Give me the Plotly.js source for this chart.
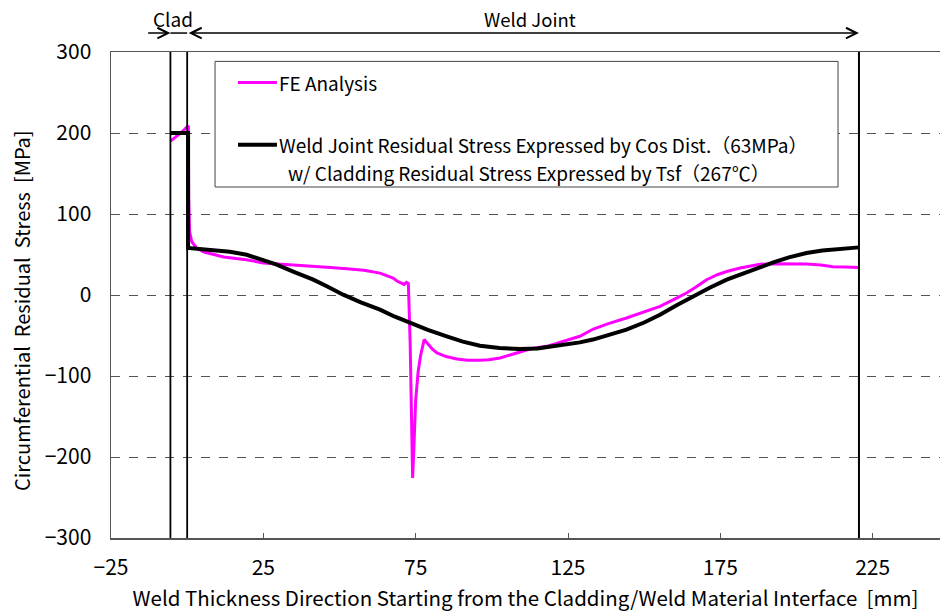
<!DOCTYPE html>
<html>
<head>
<meta charset="utf-8">
<script src="https://cdn.plot.ly/plotly-3.0.1.min.js"></script>
<style>
  html, body { margin: 0; padding: 0; background: #fff; }
  #chart { width: 940px; height: 612px; }
</style>
</head>
<body>
<div id="chart"></div>
<script>
// Through-thickness position [mm] and circumferential residual stress [MPa]
const feX = [-5.5, -4, -2.5, -1, 0, 0.4, 0.5, 0.8, 1.5, 3.1, 5.5, 8.6, 12, 16, 19.5, 25, 30.5, 36, 41.4, 47, 52.4, 58, 63.3, 65.5, 67.6, 69, 70.4, 71.2, 72, 72.6, 73.2, 73.7, 74.0, 74.4, 75.0, 75.8, 76.6, 77.8, 79, 80.5, 82, 85, 88.5, 92, 96.1, 99, 102.7, 106, 109.2, 113, 118, 121, 124.6, 128.9, 133.3, 138.5, 144.2, 150, 155.2, 160, 163.9, 167, 170.5, 174, 177.1, 181.5, 188, 192.4, 197, 203.3, 208, 212, 216, 220.5];
const feY = [190, 194, 199, 204, 208, 209, 120, 78, 66, 58, 53, 49.7, 47, 45, 43.6, 39.5, 38.3, 36.5, 35.3, 34, 32.5, 30.5, 27, 24, 21, 17, 14.8, 13, 15.6, 14, -60, -180, -226, -190, -130, -95, -75, -55, -60, -67, -71.6, -76, -79, -80.5, -80.7, -80, -77.8, -74, -69.6, -66, -63.4, -60, -55, -51, -42, -35, -28.4, -21, -14, -5, 2.5, 10, 18.9, 25, 29, 33.3, 38, 38.6, 38.5, 38.2, 37, 35, 34.5, 34];

const cosX = [-5.5, 0.3, 0.3, 8.6, 14, 19.5, 24.5, 29.4, 35, 41.4, 46, 51.2, 57, 63.3, 68, 73.1, 79, 85.2, 90.5, 96.1, 102.5, 109.2, 115, 120, 124.5, 128.9, 133.2, 138.5, 144.2, 150, 155.2, 160.5, 166.1, 171.5, 177.1, 181.5, 188, 192.4, 197.5, 203.3, 208.5, 214.3, 220.5];
const cosY = [200, 200, 58, 56, 53.5, 49.7, 44, 37.4, 28.5, 18.9, 10.5, 0.4, -9, -18, -26.5, -34.6, -43, -51, -57.5, -62.6, -65.5, -66.7, -66, -63.4, -61, -58.5, -55, -49, -42.8, -34, -24.3, -13, -1.7, 9, 18.9, 25, 35.3, 40.3, 46.5, 51.8, 55, 57.2, 58.8];

// Region boundaries [mm]
const cladStart = -5.5;
const weldStart = 0;
const weldEnd = 220.5;
const cladArrowFrom = -13.3;

const seriesNames = [
  'FE Analysis',
  'Weld Joint Residual Stress Expressed by Cos Dist.（63MPa）',
  'w/ Cladding Residual Stress Expressed by Tsf（267℃）'
];

const FONT = '"Noto Sans CJK JP", "Noto Sans", sans-serif';

const traces = [
  { x: feX, y: feY, type: 'scatter', mode: 'lines', name: seriesNames[0],
    line: { color: '#ff00ff', width: 3 }, showlegend: false },
  { x: cosX, y: cosY, type: 'scatter', mode: 'lines', name: seriesNames[1],
    line: { color: '#000000', width: 4 }, showlegend: false }
];

// Legend box geometry (paper units)
const lgX0 = 0.1255, lgX1 = 0.877, lgY0 = 0.7222, lgY1 = 0.9807;
const sampleX0 = 0.1532, sampleX1 = 0.2002;
const row1 = 0.9375, row2 = 0.8093, row3 = 0.7518;

const shapes = [
  // clad / weld boundaries
  { type: 'line', xref: 'x', yref: 'paper', x0: cladStart, x1: cladStart, y0: 0, y1: 1, line: { color: '#000', width: 1.8 } },
  { type: 'line', xref: 'x', yref: 'paper', x0: weldStart, x1: weldStart, y0: 0, y1: 1, line: { color: '#000', width: 1.8 } },
  { type: 'line', xref: 'x', yref: 'paper', x0: weldEnd, x1: weldEnd, y0: 0, y1: 1, line: { color: '#000', width: 2 } },
  // span line across the clad above the plot
  { type: 'line', xref: 'x', yref: 'paper', x0: cladStart, x1: weldStart, y0: 1.039, y1: 1.039, line: { color: '#000', width: 1.5 } },
  // legend frame and samples
  { type: 'rect', xref: 'paper', yref: 'paper', x0: lgX0, x1: lgX1, y0: lgY0, y1: lgY1,
    line: { color: '#444', width: 1 }, fillcolor: '#ffffff', layer: 'above' },
  { type: 'line', xref: 'paper', yref: 'paper', x0: sampleX0, x1: sampleX1, y0: row1, y1: row1,
    line: { color: '#ff00ff', width: 3 }, layer: 'above' },
  { type: 'line', xref: 'paper', yref: 'paper', x0: sampleX0, x1: sampleX1, y0: row2, y1: row2,
    line: { color: '#000', width: 4 }, layer: 'above' }
];

const annotations = [
  { xref: 'x', yref: 'paper', x: cladStart, y: 1.039, axref: 'x', ayref: 'paper', ax: cladArrowFrom, ay: 1.039,
    text: '', showarrow: true, arrowhead: 5, arrowsize: 1.4, arrowwidth: 1.5, arrowcolor: '#000' },
  { xref: 'x', yref: 'paper', x: weldEnd, y: 1.039, axref: 'x', ayref: 'paper', ax: weldStart, ay: 1.039,
    text: '', showarrow: true, arrowhead: 5, startarrowhead: 5, arrowside: 'end+start',
    arrowsize: 1.4, startarrowsize: 1.4, arrowwidth: 1.5, arrowcolor: '#000' },
  { xref: 'x', yref: 'paper', x: -4.6, y: 1.068, text: 'Clad', showarrow: false,
    xanchor: 'center', yanchor: 'middle', font: { family: FONT, size: 19, color: '#000' } },
  { xref: 'x', yref: 'paper', x: 112.5, y: 1.068, text: 'Weld Joint', showarrow: false,
    xanchor: 'center', yanchor: 'middle', font: { family: FONT, size: 18.5, color: '#000' } },
  { xref: 'paper', yref: 'paper', x: sampleX1, y: row1, text: seriesNames[0], showarrow: false,
    xanchor: 'left', yanchor: 'middle', font: { family: FONT, size: 19, color: '#000' } },
  { xref: 'paper', yref: 'paper', x: sampleX1, y: row2, text: seriesNames[1], showarrow: false,
    xanchor: 'left', yanchor: 'middle', font: { family: FONT, size: 19, color: '#000' } },
  { xref: 'paper', yref: 'paper', x: 0.2117, y: row3, text: seriesNames[2], showarrow: false,
    xanchor: 'left', yanchor: 'middle', font: { family: FONT, size: 19, color: '#000' } }
];

const layout = {
  width: 940, height: 612,
  margin: { l: 111, r: 0, t: 52, b: 74 },
  paper_bgcolor: '#fff', plot_bgcolor: '#fff',
  font: { family: FONT, color: '#000' },
  xaxis: {
    range: [-25, 247.1], tick0: -25, dtick: 50,
    ticks: 'inside', ticklen: 5, tickcolor: '#555', tickwidth: 1,
    showgrid: false, zeroline: false,
    showline: true, linecolor: '#555', linewidth: 1.5, mirror: true,
    tickfont: { family: FONT, size: 21, color: '#000' },
    ticklabelstandoff: 10,
    title: { text: 'Weld Thickness Direction Starting from the Cladding/Weld Material Interface &nbsp;[mm]',
             font: { family: FONT, size: 20.5, color: '#000' }, standoff: 12 }
  },
  yaxis: {
    range: [-300, 300], tick0: -300, dtick: 100,
    ticks: '', showgrid: true, gridcolor: '#555', gridwidth: 1, griddash: 'dash',
    zeroline: false,
    showline: true, linecolor: '#555', linewidth: 1.5, mirror: true,
    tickfont: { family: FONT, size: 21, color: '#000' },
    ticklabelstandoff: 14,
    title: { text: 'Circumferential &nbsp;Residual &nbsp;Stress &nbsp;[MPa]&nbsp;&nbsp;&nbsp;&nbsp;&nbsp;&nbsp;&nbsp;',
             font: { family: FONT, size: 20, color: '#000' }, standoff: 8 }
  },
  shapes: shapes,
  annotations: annotations,
  showlegend: false
};

Plotly.newPlot('chart', traces, layout, { displayModeBar: false, staticPlot: true });
</script>
</body>
</html>
